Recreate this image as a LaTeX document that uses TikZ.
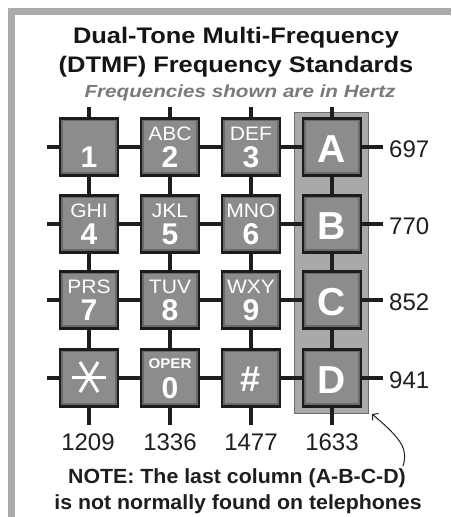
\documentclass[tikz,border=0pt]{standalone}
\usepackage{fontspec}
\setmainfont{Liberation Sans}
\newfontfamily\titlefont[FakeStretch=1.13]{Liberation Sans}
\newfontfamily\subfont[FakeStretch=1.18]{Liberation Sans}
\newfontfamily\notefont[FakeStretch=1.04]{Liberation Sans}
\newfontfamily\keyfont[FakeStretch=1.08]{Liberation Sans}
\usetikzlibrary{arrows.meta}
\definecolor{framec}{HTML}{ABABAB}
\definecolor{panelc}{HTML}{A9A9A9}
\definecolor{paneledge}{HTML}{6E6E6E}
\definecolor{keyface}{HTML}{8C8C8C}
\definecolor{keyband}{HTML}{6A6A6A}
\definecolor{keyedge}{HTML}{1C1C1C}
\definecolor{wirec}{HTML}{1E1E1E}
\definecolor{textc}{HTML}{151515}
\definecolor{labc}{HTML}{1E1E1E}
\definecolor{subc}{HTML}{7A7A7A}
\tikzset{
  keybox/.style={rectangle, minimum width=58pt, minimum height=57pt, inner sep=0pt,
    fill=keyband, draw=keyedge, line width=2.5pt,
    path picture={\fill[keyface] ([shift={(3pt,3.5pt)}]path picture bounding box.south west)
       rectangle ([shift={(-3.5pt,-2.5pt)}]path picture bounding box.north east);}},
  wire/.style={draw=wirec, line width=4pt},
  klet/.style={text=white, font=\keyfont\fontsize{19.5}{19.5}\selectfont, inner sep=0pt},
  ksmall/.style={text=white, font=\keyfont\bfseries\fontsize{14}{14}\selectfont, inner sep=0pt},
  kdig/.style={text=white, font=\bfseries\fontsize{30}{30}\selectfont, inner sep=0pt},
  kbig/.style={text=white, font=\bfseries\fontsize{39}{39}\selectfont, inner sep=0pt},
  freq/.style={text=labc, font=\fontsize{24}{24}\selectfont, inner sep=0pt},
  titlet/.style={text=textc, font=\titlefont\bfseries\fontsize{22.5}{22.5}\selectfont, inner sep=0pt, anchor=base},
  subt/.style={text=subc, font=\subfont\bfseries\itshape\fontsize{17.5}{17.5}\selectfont, inner sep=0pt, anchor=base},
  notet/.style={text=labc, font=\notefont\bfseries\fontsize{20.5}{20.5}\selectfont, inner sep=0pt, anchor=base},
  star/.style={draw=white, line width=3pt}
}
\begin{document}
\begin{tikzpicture}[x=1pt, y=-1pt]
\useasboundingbox (0,0) rectangle (451,517);
\fill[white] (0,0) rectangle (451,517);
% frame
\fill[framec] (8,8) rectangle (451,15);
\fill[framec] (8,8) rectangle (15,517);
% titles
\node[titlet] (title1) at (236,43) {Dual-Tone Multi-Frequency};
\node[titlet] (title2) at (236,72) {(DTMF) Frequency Standards};
\node[subt] (sub) at (240,97) {Frequencies shown are in Hertz};
% panel for last column
\node[rectangle, fill=panelc, draw=paneledge, line width=1pt, minimum width=74pt, minimum height=301pt, inner sep=0pt] (panel) at (331,262.5) {};
% wires
\foreach \r/\y in {1/147,2/224,3/300,4/378}{
  \coordinate (rw\r) at (47,\y);
  \coordinate (re\r) at (383,\y);
  \draw[wire] (rw\r) -- (re\r);
}
\foreach \c/\x in {1/89,2/170,3/251,4/332}{
  \coordinate (ct\c) at (\x,107);
  \coordinate (cb\c) at (\x,425);
  \draw[wire] (ct\c) -- (cb\c);
}
% keys
\node[keybox] (k1) at (89,147) {};
\node[keybox] (k2) at (170,147) {};
\node[keybox] (k3) at (251,147) {};
\node[keybox] (kA) at (332,147) {};
\node[keybox] (k4) at (89,224) {};
\node[keybox] (k5) at (170,224) {};
\node[keybox] (k6) at (251,224) {};
\node[keybox] (kB) at (332,224) {};
\node[keybox] (k7) at (89,300) {};
\node[keybox] (k8) at (170,300) {};
\node[keybox] (k9) at (251,300) {};
\node[keybox] (kC) at (332,300) {};
\node[keybox] (ks) at (89,378) {};
\node[keybox] (k0) at (170,378) {};
\node[keybox] (kh) at (251,378) {};
\node[keybox] (kD) at (332,378) {};
% key texts
\node[kdig] (t1) at ([yshift=-10pt]k1.center) {1};
\foreach \k/\l/\d in {2/ABC/2,3/DEF/3,4/GHI/4,5/JKL/5,6/MNO/6,7/PRS/7,8/TUV/8,9/WXY/9}{
  \node[klet] (l\k) at ([yshift=13pt]k\k.center) {\l};
  \node[kdig] (d\k) at ([yshift=-10.5pt]k\k.center) {\d};
}
\node[ksmall] (l0) at ([yshift=14pt]k0.center) {OPER};
\node[kdig] (d0) at ([yshift=-10.5pt]k0.center) {0};
\node[kbig] (tA) at ([yshift=-2pt]kA.center) {A};
\node[kbig] (tB) at ([yshift=-2pt]kB.center) {B};
\node[kbig] (tC) at ([yshift=-2pt]kC.center) {C};
\node[kbig] (tD) at ([yshift=-2pt]kD.center) {D};
\node[kbig, font=\bfseries\fontsize{36}{36}\selectfont] (th) at ([yshift=-1pt]kh.center) {\#};
% star
\coordinate (sc) at ([yshift=1pt]ks.center);
\draw[star] ([xshift=-17pt]sc) -- ([xshift=17pt]sc);
\draw[star] ([shift={(-9pt,15pt)}]sc) -- ([shift={(9pt,-15pt)}]sc);
\draw[star] ([shift={(9pt,15pt)}]sc) -- ([shift={(-9pt,-15pt)}]sc);
% row labels
\node[freq, anchor=base west] (f697) at (389,157) {697};
\node[freq, anchor=base west] (f770) at (389,234) {770};
\node[freq, anchor=base west] (f852) at (389,310) {852};
\node[freq, anchor=base west] (f941) at (389,388) {941};
% column labels
\node[freq, anchor=base] (f1209) at (88,450) {1209};
\node[freq, anchor=base] (f1336) at (170,450) {1336};
\node[freq, anchor=base] (f1477) at (251,450) {1477};
\node[freq, anchor=base] (f1633) at (332,450) {1633};
% note
\node[notet] (note1) at (237,483) {NOTE: The last column (A-B-C-D)};
\node[notet] (note2) at (238,509) {is not normally found on telephones};
\coordinate (ns) at (403,466);
\coordinate (ne) at (372,414);
\draw[draw=labc, line width=1pt, -{Straight Barb[length=4pt,width=9pt]}] (ns) .. controls (408,450) and (403,440) .. (ne);
\end{tikzpicture}
\end{document}
